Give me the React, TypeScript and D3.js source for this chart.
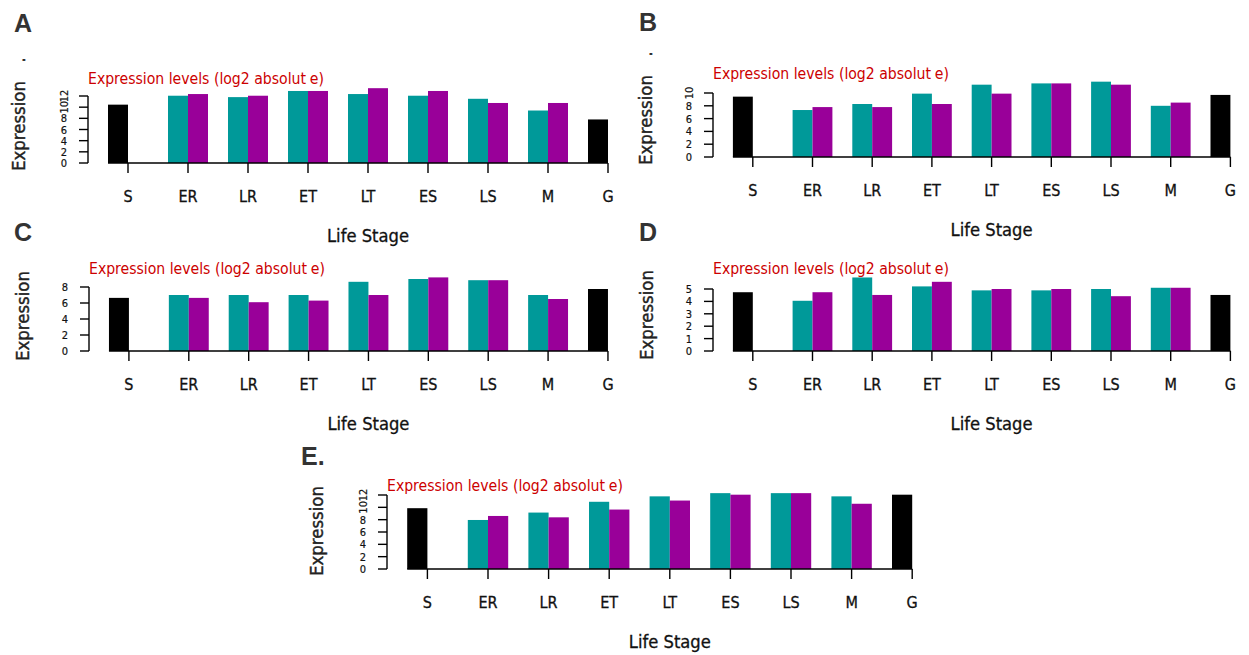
import React, { useRef, useEffect } from "react";
import * as d3 from "d3";

// life stages along the x axis
const stages = ["S", "ER", "LR", "ET", "LT", "ES", "LS", "M", "G"];

// black bars (S and G), teal and purple series for ER..M
const aControl = [10.45, 7.8];
const aTeal = [12.05, 11.8, 12.9, 12.35, 12.05, 11.5, 9.4];
const aPurple = [12.35, 12.05, 12.9, 13.4, 12.9, 10.75, 10.75];

const bControl = [9.43, 9.7];
const bTeal = [7.34, 8.28, 9.9, 11.3, 11.5, 11.77, 8.0];
const bPurple = [7.8, 7.8, 8.28, 9.9, 11.5, 11.3, 8.5];

const cControl = [6.64, 7.75];
const cTeal = [7.0, 7.0, 7.0, 8.65, 9.0, 8.85, 7.0];
const cPurple = [6.64, 6.1, 6.3, 7.0, 9.2, 8.85, 6.5];

const dControl = [4.74, 4.52];
const dTeal = [4.05, 5.93, 5.21, 4.89, 4.89, 5.0, 5.1];
const dPurple = [4.74, 4.52, 5.58, 5.0, 5.0, 4.42, 5.1];

const eControl = [9.86, 12.05];
const eTeal = [7.95, 9.15, 10.9, 11.78, 12.3, 12.3, 11.78];
const ePurple = [8.6, 8.38, 9.64, 11.1, 12.05, 12.3, 10.58];

const ticks12 = [0, 2, 4, 6, 8, 10, 12];
const ticks10 = [0, 2, 4, 6, 8, 10];
const ticks8 = [0, 2, 4, 6, 8];
const ticks5 = [0, 1, 2, 3, 4, 5];

const titleText = "Expression levels (log2 absolut";
const yLabel = "Expression";
const xLabel = "Life Stage";

const TEAL = "#009999";
const PURPLE = "#990099";
const RED = "#cc0000";
const FONT = "'DejaVu Sans Condensed', 'DejaVu Sans', sans-serif";

// panel layout
const panels = [
  { letter: "A", lx: 14, ly: 32, x0: 88, unit: 20, y0: 163, yTopPx: 96, yMax: 12, ticks: ticks12,
    control: aControl, teal: aTeal, purple: aPurple, titleY: 84, ylx: 25, yly: 126, dot: true },
  { letter: "B", lx: 639, ly: 31, x0: 713, unit: 19.9, y0: 157, yTopPx: 93, yMax: 10, ticks: ticks10,
    control: bControl, teal: bTeal, purple: bPurple, titleY: 79, ylx: 652, yly: 120, dot: true },
  { letter: "C", lx: 14, ly: 241, x0: 89, unit: 19.96, y0: 351, yTopPx: 287, yMax: 8, ticks: ticks8,
    control: cControl, teal: cTeal, purple: cPurple, titleY: 274, ylx: 29, yly: 316, dot: false },
  { letter: "D", lx: 639, ly: 241, x0: 713, unit: 19.9, y0: 351, yTopPx: 289, yMax: 5, ticks: ticks5,
    control: dControl, teal: dTeal, purple: dPurple, titleY: 274, ylx: 653, yly: 315, dot: false },
  { letter: "E.", lx: 301, ly: 465, x0: 387, unit: 20.2, y0: 569, yTopPx: 495, yMax: 12, ticks: ticks12,
    control: eControl, teal: eTeal, purple: ePurple, titleY: 491, ylx: 323, yly: 531, dot: false },
];

const App = () => {
  const svgRef = useRef<SVGSVGElement | null>(null);

  useEffect(() => {
    const svg = d3.select(svgRef.current);
    svg.selectAll("*").remove();

    panels.forEach((p) => {
      const g = svg.append("g");
      const x = d3.scaleLinear().domain([0, 27]).range([p.x0, p.x0 + 27 * p.unit]);
      const y = d3.scaleLinear().domain([0, p.yMax]).range([p.y0, p.yTopPx]);
      const bw = x(1) - x(0);

      // bars
      const bars: { slot: number; v: number; c: string }[] = [];
      stages.forEach((s, i) => {
        if (i === 0) bars.push({ slot: 1, v: p.control[0], c: "#000" });
        else if (i === stages.length - 1) bars.push({ slot: 3 * i + 1, v: p.control[1], c: "#000" });
        else {
          bars.push({ slot: 3 * i + 1, v: p.teal[i - 1], c: TEAL });
          bars.push({ slot: 3 * i + 2, v: p.purple[i - 1], c: PURPLE });
        }
      });
      g.selectAll("rect")
        .data(bars)
        .enter()
        .append("rect")
        .attr("x", (d) => x(d.slot))
        .attr("y", (d) => y(d.v))
        .attr("width", bw)
        .attr("height", (d) => y(0) - y(d.v))
        .attr("fill", (d) => d.c);

      // x axis
      g.append("line")
        .attr("x1", x(1)).attr("x2", x(26))
        .attr("y1", p.y0).attr("y2", p.y0)
        .attr("stroke", "#000").attr("stroke-width", 1.4);
      stages.forEach((s, i) => {
        const cx = x(3 * i + 2);
        g.append("line")
          .attr("x1", cx).attr("x2", cx)
          .attr("y1", p.y0).attr("y2", p.y0 + 10)
          .attr("stroke", "#000").attr("stroke-width", 1.4);
        g.append("text")
          .attr("x", cx).attr("y", p.y0 + 39)
          .attr("text-anchor", "middle")
          .attr("font-family", FONT).attr("font-size", 16)
          .attr("fill", "#111")
          .attr("stroke", "#111").attr("stroke-width", 0.3)
          .text(s);
      });

      // y axis
      g.append("line")
        .attr("x1", p.x0).attr("x2", p.x0)
        .attr("y1", y(0)).attr("y2", y(p.yMax))
        .attr("stroke", "#000").attr("stroke-width", 1.4);
      p.ticks.forEach((t) => {
        g.append("line")
          .attr("x1", p.x0 - 9).attr("x2", p.x0)
          .attr("y1", y(t)).attr("y2", y(t))
          .attr("stroke", "#000").attr("stroke-width", 1.4);
        const lab = String(t);
        const tx = p.x0 - 24;
        const txt = g.append("text")
          .attr("font-family", FONT).attr("font-size", 11)
          .attr("fill", "#111")
          .attr("stroke", "#111").attr("stroke-width", 0.2)
          .attr("text-anchor", "middle")
          .text(lab);
        if (lab.length > 1) {
          txt.attr("transform", `translate(${tx + 4},${y(t)}) rotate(-90)`);
        } else {
          txt.attr("x", tx).attr("y", y(t) + 4);
        }
      });

      // title
      g.append("text")
        .attr("x", p.x0).attr("y", p.titleY)
        .attr("font-family", FONT).attr("font-size", 16)
        .attr("fill", RED)
        .attr("textLength", 236)
        .attr("lengthAdjust", "spacingAndGlyphs")
        .text(titleText)
        .append("tspan").attr("dx", 4).text("e)");

      // y label
      g.append("text")
        .attr("transform", `translate(${p.ylx},${p.yly}) rotate(-90)`)
        .attr("text-anchor", "middle")
        .attr("font-family", FONT).attr("font-size", 18)
        .attr("fill", "#222")
        .attr("stroke", "#222").attr("stroke-width", 0.4)
        .attr("textLength", 90)
        .attr("lengthAdjust", "spacingAndGlyphs")
        .text(yLabel);
      if (p.dot) {
        g.append("text")
          .attr("transform", `translate(${p.ylx},${p.yly - 66}) rotate(-90)`)
          .attr("text-anchor", "middle")
          .attr("font-family", FONT).attr("font-size", 18)
          .attr("fill", "#222")
          .attr("stroke", "#222").attr("stroke-width", 0.4)
          .text(".");
      }

      // x label
      g.append("text")
        .attr("x", x(14)).attr("y", p.y0 + 79)
        .attr("text-anchor", "middle")
        .attr("font-family", FONT).attr("font-size", 18)
        .attr("fill", "#111")
        .attr("stroke", "#111").attr("stroke-width", 0.3)
        .attr("textLength", 82)
        .attr("lengthAdjust", "spacingAndGlyphs")
        .text(xLabel);

      // panel letter
      g.append("text")
        .attr("x", p.lx).attr("y", p.ly)
        .attr("font-family", "'Liberation Sans', Arial, sans-serif")
        .attr("font-weight", "bold")
        .attr("font-size", 25)
        .attr("fill", "#333")
        .text(p.letter);
    });
  }, []);

  return (
    <svg
      ref={svgRef}
      width={1249}
      height={655}
      style={{ position: "absolute", left: 0, top: 0, background: "#fff" }}
    />
  );
};

export default App;
